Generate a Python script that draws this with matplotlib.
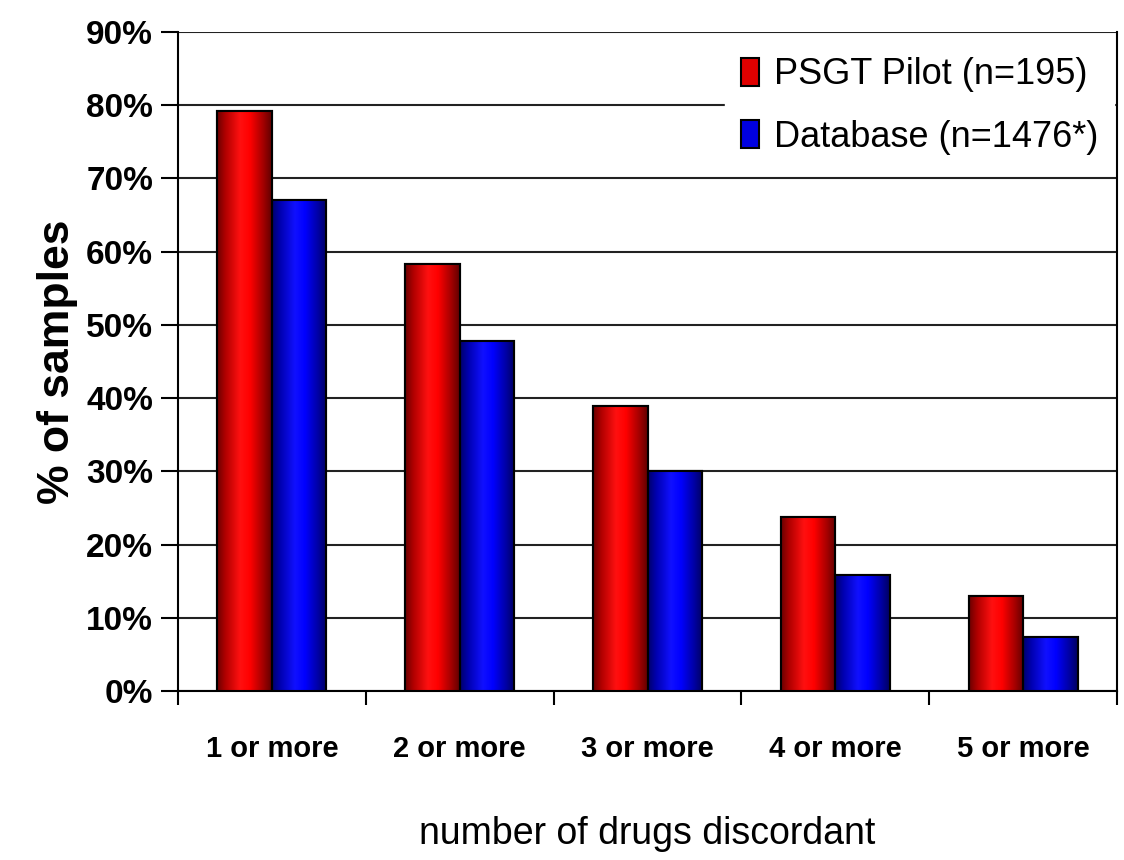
import matplotlib
matplotlib.use("Agg")
import matplotlib.pyplot as plt
import numpy as np
from matplotlib.colors import LinearSegmentedColormap
from matplotlib.patches import Rectangle

categories = ["1 or more", "2 or more", "3 or more", "4 or more", "5 or more"]
series_names = ["PSGT Pilot (n=195)", "Database (n=1476*)"]
pilot = [79.2, 58.3, 38.9, 23.8, 13.0]
database = [67.0, 47.8, 30.0, 15.8, 7.4]
yticks = [0, 10, 20, 30, 40, 50, 60, 70, 80, 90]

sans = ["Liberation Sans", "DejaVu Sans"]

fig = plt.figure(figsize=(11.24, 8.6), dpi=100)
ax = fig.add_axes([0.1584, 0.1965, 0.8354, 0.7663])

x = np.arange(len(categories))
w = 0.29
red_cmap = LinearSegmentedColormap.from_list(
    "r", [(0, "#6a0000"), (0.15, "#b00000"), (0.42, "#ff1010"), (0.6, "#ff0000"), (0.85, "#a00000"), (1, "#600000")])
blue_cmap = LinearSegmentedColormap.from_list(
    "b", [(0, "#00006a"), (0.15, "#0000b0"), (0.42, "#1010ff"), (0.6, "#0000ff"), (0.85, "#0000a0"), (1, "#000060")])
grad = np.linspace(0, 1, 256).reshape(1, -1)

bars1 = ax.bar(x - w / 2, pilot, w, color="#e00000", edgecolor="black", linewidth=1.5, zorder=3, label=series_names[0])
bars2 = ax.bar(x + w / 2, database, w, color="#0000e0", edgecolor="black", linewidth=1.5, zorder=3, label=series_names[1])

for bars, cmap in ((bars1, red_cmap), (bars2, blue_cmap)):
    for b in bars:
        x0, y0 = b.get_x(), b.get_y()
        bw, bh = b.get_width(), b.get_height()
        im = ax.imshow(grad, cmap=cmap, aspect="auto", extent=(x0, x0 + bw, y0, y0 + bh),
                       zorder=3.5, interpolation="bilinear")
        im.set_clip_path(b)
        ax.add_patch(Rectangle((x0, y0), bw, bh, fill=False, edgecolor="black", linewidth=1.5, zorder=4))

ax.set_xlim(-0.5, len(categories) - 0.5)
ax.set_ylim(0, 90)
ax.set_yticks(yticks)
ax.set_yticklabels([f"{v}%" for v in yticks], fontfamily=sans, fontweight="bold", fontsize=24)
ax.yaxis.grid(True, color="#222222", linewidth=1.5, zorder=0)
ax.set_axisbelow(True)

ax.set_xticks(x)
ax.set_xticklabels(categories, fontfamily=sans, fontweight="bold", fontsize=21)
ax.tick_params(axis="x", length=0, pad=32)
ax.set_xticks(np.arange(len(categories) + 1) - 0.5, minor=True)
ax.tick_params(axis="x", which="minor", length=10, width=1.5, direction="out")
ax.tick_params(axis="y", length=12, width=1.5, direction="out", pad=6)

for s in ("left", "bottom", "right"):
    ax.spines[s].set_linewidth(1.5)
ax.spines["top"].set_visible(False)
ax.spines["right"].set_zorder(20)

ax.set_ylabel("% of samples", fontfamily=sans, fontweight="bold", fontsize=32, labelpad=6)
ax.set_xlabel("number of drugs discordant", fontfamily=sans, fontsize=27, labelpad=38)

leg = ax.legend(loc="upper right", bbox_to_anchor=(0.997, 0.986), borderaxespad=0,
                prop={"family": sans, "size": 26},
                frameon=True, fancybox=False, edgecolor="white", framealpha=1, handlelength=0.5, handleheight=0.8,
                handletextpad=0.4, labelspacing=0.75, borderpad=0.45)
leg.set_zorder(10)

fig.savefig("out.png", dpi=100)
